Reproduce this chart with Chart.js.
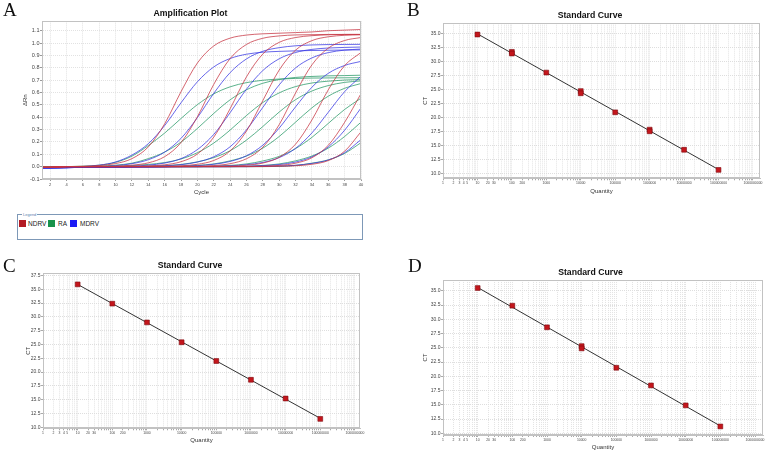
<!DOCTYPE html>
<html>
<head>
<meta charset="utf-8">
<script src="https://cdn.jsdelivr.net/npm/chart.js@4.4.1/dist/chart.umd.min.js"></script>
<style>
  body { margin: 0; background: #fff; width: 767px; height: 453px; position: relative; overflow: hidden;
         font-family: "Liberation Sans", Arial, sans-serif; }
  canvas { position: absolute; }
  .letter { position: absolute; font-family: "Liberation Serif", "Times New Roman", serif; font-size: 19px;
            line-height: 1; color: #111; z-index: 2; }
  .legend { position: absolute; left: 17px; top: 214px; width: 344px; height: 24px; border: 1px solid #7d98b7; }
  .legend .lgTitle { position: absolute; left: 4px; top: -3px; font-size: 4px; line-height: 5px; color: #5a7fb0;
                     background: #fff; padding: 0 1px; }
  .legend .sw { position: absolute; top: 5px; width: 7px; height: 7px; }
  .legend .lt { position: absolute; top: 5px; font-size: 6.5px; line-height: 7px; color: #222; }
</style>
</head>
<body>
<div class="letter" style="left:3px;top:0px">A</div>
<div class="letter" style="left:407px;top:0px">B</div>
<div class="letter" style="left:3px;top:256px">C</div>
<div class="letter" style="left:408px;top:256px">D</div>

<canvas id="ampChart" width="381" height="205" style="left:0px;top:0px"></canvas>
<canvas id="stdB" width="354" height="205" style="left:413px;top:0px"></canvas>
<canvas id="stdC" width="380" height="213" style="left:0px;top:240px"></canvas>
<canvas id="stdD" width="355" height="213" style="left:413px;top:240px"></canvas>

<div class="legend">
  <span class="lgTitle">Legend</span>
  <span class="sw" style="left:1px;background:#b31b24"></span><span class="lt" style="left:10px">NDRV</span>
  <span class="sw" style="left:30px;background:#17924a"></span><span class="lt" style="left:40px">RA</span>
  <span class="sw" style="left:52px;background:#1a1af5"></span><span class="lt" style="left:62px">MDRV</span>
</div>

<script>
// amplification plot: cycles sampled, one row per dilution
const cycles = [1, 2, 4, 6, 8, 10, 12, 14, 16, 18, 20, 22, 24, 26, 28, 30, 32, 34, 36, 38, 40];
const cycleTicks = [2, 4, 6, 8, 10, 12, 14, 16, 18, 20, 22, 24, 26, 28, 30, 32, 34, 36, 38, 40];
const rnTicks = [-0.1, 0, 0.1, 0.2, 0.3, 0.4, 0.5, 0.6, 0.7, 0.8, 0.9, 1.0, 1.1];

const ndrvRn = [
  [-0.005, -0.005, 0, 0.003, 0.009, 0.025, 0.065, 0.16, 0.347, 0.607, 0.839, 0.977, 1.04, 1.065, 1.075, 1.08, 1.085, 1.09, 1.1, 1.105, 1.11],
  [-0.005, -0.005, 0, 0, 0.002, 0.004, 0.012, 0.031, 0.081, 0.195, 0.404, 0.666, 0.875, 0.989, 1.039, 1.058, 1.066, 1.068, 1.07, 1.07, 1.07],
  [-0.005, -0.005, 0, 0, 0, 0.001, 0.002, 0.006, 0.015, 0.04, 0.102, 0.239, 0.469, 0.727, 0.912, 1.006, 1.045, 1.06, 1.067, 1.07, 1.07],
  [-0.005, -0.005, 0, 0, 0, 0, 0, 0.001, 0.003, 0.007, 0.019, 0.05, 0.127, 0.288, 0.535, 0.782, 0.943, 1.02, 1.051, 1.063, 1.067],
  [-0.005, -0.005, 0, 0, 0, 0, 0, 0, 0, 0.001, 0.003, 0.009, 0.024, 0.064, 0.157, 0.34, 0.596, 0.824, 0.959, 1.021, 1.045],
  [-0.005, -0.005, 0, 0, 0, 0, 0, 0, 0, 0, 0.001, 0.002, 0.004, 0.011, 0.029, 0.076, 0.182, 0.378, 0.622, 0.818, 0.924],
  [-0.005, -0.005, 0, 0, 0, 0, 0, 0, 0, 0, 0, 0, 0.001, 0.001, 0.004, 0.01, 0.028, 0.072, 0.173, 0.359, 0.591],
  [-0.005, -0.005, 0, 0, 0, 0, 0, 0, 0, 0, 0, 0, 0, 0, 0.001, 0.003, 0.007, 0.019, 0.049, 0.125, 0.282]
];
const mdrvRn = [
  [-0.01, -0.01, -0.006, 0.001, 0.012, 0.038, 0.094, 0.186, 0.333, 0.517, 0.687, 0.807, 0.875, 0.91, 0.926, 0.933, 0.937, 0.94, 0.942, 0.944, 0.945],
  [-0.01, -0.01, -0.008, -0.003, 0, 0.008, 0.024, 0.056, 0.118, 0.229, 0.397, 0.593, 0.761, 0.872, 0.934, 0.963, 0.978, 0.985, 0.988, 0.989, 0.99],
  [-0.01, -0.01, -0.008, -0.005, -0.003, 0, 0.004, 0.012, 0.029, 0.065, 0.138, 0.261, 0.437, 0.627, 0.778, 0.873, 0.924, 0.949, 0.96, 0.965, 0.968],
  [-0.01, -0.01, -0.008, -0.006, -0.004, -0.002, 0, 0.002, 0.007, 0.016, 0.037, 0.08, 0.161, 0.298, 0.48, 0.662, 0.799, 0.88, 0.923, 0.943, 0.952],
  [-0.01, -0.01, -0.008, -0.006, -0.005, -0.004, -0.003, -0.002, 0, 0.003, 0.008, 0.019, 0.042, 0.088, 0.174, 0.312, 0.484, 0.643, 0.755, 0.819, 0.852],
  [-0.01, -0.01, -0.008, -0.006, -0.005, -0.004, -0.003, -0.002, -0.001, 0, 0, 0.003, 0.007, 0.016, 0.034, 0.073, 0.148, 0.273, 0.44, 0.607, 0.732],
  [-0.01, -0.01, -0.008, -0.006, -0.005, -0.004, -0.003, -0.002, -0.001, 0, 0, 0, 0, 0.003, 0.008, 0.017, 0.037, 0.079, 0.16, 0.295, 0.475],
  [-0.01, -0.01, -0.008, -0.006, -0.005, -0.004, -0.003, -0.002, -0.001, 0, 0, 0, 0, 0, 0.002, 0.005, 0.011, 0.026, 0.054, 0.113, 0.219]
];
const raRn = [
  [-0.005, -0.005, 0, 0.004, 0.012, 0.035, 0.085, 0.171, 0.272, 0.39, 0.502, 0.589, 0.646, 0.68, 0.699, 0.709, 0.714, 0.717, 0.718, 0.719, 0.72],
  [-0.005, -0.005, 0, 0, 0.004, 0.012, 0.028, 0.065, 0.118, 0.199, 0.309, 0.431, 0.541, 0.622, 0.675, 0.705, 0.722, 0.73, 0.735, 0.737, 0.74],
  [-0.005, -0.005, 0, 0, 0, 0.003, 0.008, 0.018, 0.033, 0.062, 0.113, 0.191, 0.296, 0.414, 0.519, 0.597, 0.648, 0.677, 0.692, 0.701, 0.705],
  [-0.005, -0.005, 0, 0, 0, 0, 0, 0.003, 0.008, 0.018, 0.039, 0.073, 0.129, 0.215, 0.325, 0.442, 0.542, 0.612, 0.656, 0.682, 0.694],
  [-0.005, -0.005, 0, 0, 0, 0, 0, 0, 0, 0.003, 0.01, 0.022, 0.047, 0.086, 0.15, 0.244, 0.36, 0.476, 0.57, 0.634, 0.673],
  [-0.005, -0.005, 0, 0, 0, 0, 0, 0, 0, 0, 0, 0.003, 0.01, 0.022, 0.046, 0.083, 0.146, 0.237, 0.35, 0.463, 0.554],
  [-0.005, -0.005, 0, 0, 0, 0, 0, 0, 0, 0, 0, 0, 0, 0.002, 0.01, 0.022, 0.047, 0.086, 0.15, 0.244, 0.36],
  [-0.005, -0.005, 0, 0, 0, 0, 0, 0, 0, 0, 0, 0, 0, 0, 0, 0.002, 0.01, 0.028, 0.055, 0.107, 0.194]
];

// standard curves
const quantB = [10, 100, 100, 1000, 10000, 10000, 100000, 1000000, 1000000, 10000000, 100000000];
const ctB = [34.8, 31.7, 31.4, 28.0, 24.7, 24.3, 20.9, 17.8, 17.5, 14.2, 10.6];
const quantC = [10, 100, 1000, 10000, 100000, 1000000, 10000000, 100000000];
const ctC = [35.9, 32.4, 29.0, 25.4, 22.0, 18.6, 15.2, 11.5];
const quantD = [10, 100, 1000, 10000, 10000, 100000, 1000000, 10000000, 100000000];
const ctD = [35.5, 32.4, 28.6, 25.3, 24.9, 21.5, 18.4, 14.9, 11.2];

const ctTicks = [10, 12.5, 15, 17.5, 20, 22.5, 25, 27.5, 30, 32.5, 35];
const ctTicksC = [10, 12.5, 15, 17.5, 20, 22.5, 25, 27.5, 30, 32.5, 35, 37.5];
const quantLabels = [1, 2, 3, 4, 5, 10, 20, 30, 100, 200, 1000, 10000, 100000, 1000000,
                     10000000, 100000000, 1000000000];

const FONT = '"Liberation Sans", Arial, sans-serif';
const RED = 'rgba(198, 52, 66, 0.85)', BLUE = 'rgba(55, 55, 228, 0.85)', GREEN = 'rgba(40, 152, 102, 0.85)';

// log grid: 1..9 in every decade
const logGrid = [];
for (let k = 0; k < 9; k++) for (let m = 1; m <= 9; m++) logGrid.push(m * Math.pow(10, k));
logGrid.push(1000000000);

const fixTicks = vals => scale => { scale.ticks = vals.map(v => ({ value: v })); };

const framePlugin = {
  id: 'frame',
  afterDatasetsDraw(chart) {
    const a = chart.chartArea, ctx = chart.ctx;
    ctx.save();
    ctx.strokeStyle = '#c2c2c2';
    ctx.lineWidth = 1;
    ctx.strokeRect(Math.round(a.left) + 0.5, Math.round(a.top) + 0.5,
                   Math.round(a.right - a.left) - 1, Math.round(a.bottom - a.top) - 1);
    ctx.restore();
  }
};

function curveSets(rows, color) {
  return rows.map(r => ({
    data: r.map((y, i) => ({ x: cycles[i], y: y })),
    borderColor: color,
    borderWidth: 0.9,
    pointRadius: 0,
    cubicInterpolationMode: 'monotone',
    fill: false
  }));
}

new Chart(document.getElementById('ampChart'), {
  type: 'line',
  data: { datasets: [...curveSets(ndrvRn, RED), ...curveSets(mdrvRn, BLUE), ...curveSets(raRn, GREEN)] },
  options: {
    responsive: false,
    animation: false,
    layout: { padding: { left: 20, right: 20, top: 0, bottom: 0 } },
    plugins: {
      legend: { display: false },
      tooltip: { enabled: false },
      title: { display: true, text: 'Amplification Plot', color: '#111',
               font: { family: FONT, size: 8.7, weight: 'bold' }, padding: { top: 8.8, bottom: 2.1 } }
    },
    scales: {
      x: {
        type: 'linear', min: 1, max: 40,
        afterBuildTicks: fixTicks(cycleTicks),
        afterFit: s => { s.height = 26; },
        ticks: { font: { family: FONT, size: 4 }, color: '#444', padding: 1, maxRotation: 0, autoSkip: false },
        grid: { color: '#e2e2e2', tickColor: '#999', tickLength: 2 },
        border: { color: '#c2c2c2', dash: [1, 1] },
        title: { display: true, text: 'Cycle', color: '#333', font: { family: FONT, size: 6 }, padding: { top: 0, bottom: 9.4 } }
      },
      y: {
        min: -0.1, max: 1.176,
        afterBuildTicks: fixTicks(rnTicks),
        afterFit: s => { s.width = 22; },
        ticks: { font: { family: FONT, size: 5.5 }, color: '#444', padding: 0.5, callback: v => v.toFixed(1) },
        grid: { color: '#e2e2e2', tickColor: '#999', tickLength: 2 },
        border: { color: '#c2c2c2', dash: [1, 1] },
        title: { display: true, text: 'ΔRn', color: '#333', font: { family: FONT, size: 6 }, padding: { top: 1.4, bottom: 0 } }
      }
    }
  },
  plugins: [framePlugin]
});

function fitLine(q, ct) {
  const xs = q.map(v => Math.log10(v));
  const n = xs.length;
  const mx = xs.reduce((a, b) => a + b, 0) / n;
  const my = ct.reduce((a, b) => a + b, 0) / n;
  let sxy = 0, sxx = 0;
  xs.forEach((x, i) => { sxy += (x - mx) * (ct[i] - my); sxx += (x - mx) * (x - mx); });
  const slope = sxy / sxx, icpt = my - slope * mx;
  return [Math.min(...q), Math.max(...q)].map(v => ({ x: v, y: icpt + slope * Math.log10(v) }));
}

function standardCurve(id, quant, ct, cfg) {
  new Chart(document.getElementById(id), {
    type: 'scatter',
    data: {
      datasets: [
        {
          data: quant.map((q, i) => ({ x: q, y: ct[i] })),
          pointStyle: 'rect', pointRadius: 3.4,
          backgroundColor: '#c4161c', borderColor: '#7e0b10', borderWidth: 0.6
        },
        {
          data: fitLine(quant, ct),
          showLine: true, borderColor: '#333', borderWidth: 1, pointRadius: 0
        }
      ]
    },
    options: {
      responsive: false,
      animation: false,
      layout: { padding: { left: cfg.pad, right: cfg.pad, top: 0, bottom: 0 } },
      plugins: {
        legend: { display: false },
        tooltip: { enabled: false },
        title: { display: true, text: 'Standard Curve', color: '#111',
                 font: { family: FONT, size: 8.7, weight: 'bold' }, padding: { top: cfg.titleTop, bottom: cfg.titleBottom } }
      },
      scales: {
        x: {
          type: 'logarithmic', min: 1, max: cfg.xMax,
          afterBuildTicks: fixTicks(logGrid),
          afterFit: s => { s.height = cfg.xHeight; },
          ticks: { font: { family: FONT, size: 3.4 }, color: '#444', padding: 1, maxRotation: 0, minRotation: 0,
                   autoSkip: false, callback: v => quantLabels.includes(v) ? String(v) : '' },
          grid: { color: '#e4e4e4', tickColor: '#aaa', tickLength: 2 },
          border: { color: '#c2c2c2', dash: [1, 1] },
          title: { display: true, text: 'Quantity', color: '#333', font: { family: FONT, size: 6 },
                   padding: { top: 0, bottom: cfg.xTitleBottom } }
        },
        y: {
          min: cfg.yMin, max: cfg.yMax,
          afterBuildTicks: fixTicks(cfg.yTicks),
          afterFit: s => { s.width = cfg.yWidth; },
          ticks: { font: { family: FONT, size: 5 }, color: '#444', padding: 0.5, callback: v => v.toFixed(1) },
          grid: { color: '#dedede', tickColor: '#aaa', tickLength: 2 },
          border: { color: '#c2c2c2', dash: [1, 1] },
          title: { display: true, text: 'CT', color: '#333', font: { family: FONT, size: 6 },
                   padding: { top: cfg.yTitleTop, bottom: 0 } }
        }
      }
    },
    plugins: [framePlugin]
  });
}

standardCurve('stdB', quantB, ctB, {
  pad: 7, yWidth: 23, xMax: 1.6e9, yMin: 9.1, yMax: 36.8, yTicks: ctTicks,
  titleTop: 10.3, titleBottom: 2.6, xHeight: 26.7, xTitleBottom: 10.4, yTitleTop: 1.7
});
standardCurve('stdC', quantC, ctC, {
  pad: 20, yWidth: 23, xMax: 1.4e9, yMin: 9.8, yMax: 37.9, yTicks: ctTicksC,
  titleTop: 20.8, titleBottom: 2.1, xHeight: 24.7, xTitleBottom: 9.4, yTitleTop: 4.4
});
standardCurve('stdD', quantD, ctD, {
  pad: 5, yWidth: 25, xMax: 1.7e9, yMin: 9.7, yMax: 36.9, yTicks: ctTicks,
  titleTop: 27.3, titleBottom: 2.3, xHeight: 18, xTitleBottom: 1.9, yTitleTop: 3.9
});
</script>
</body>
</html>
